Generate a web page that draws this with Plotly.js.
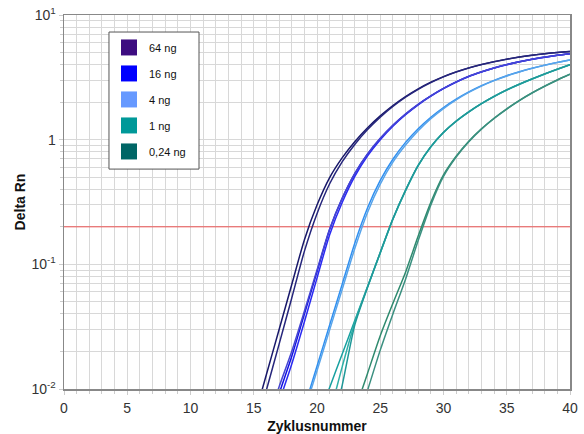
<!DOCTYPE html>
<html>
<head>
<meta charset="utf-8">
<script src="https://cdn.plot.ly/plotly-3.0.1.min.js"></script>
<style>
html,body{margin:0;padding:0;background:#ffffff;}
#chart{width:584px;height:434px;}
</style>
</head>
<body>
<div id="chart"></div>
<script>
// ---- data ----
const cycles = [14,15,16,17,18,19,20,21,22,23,24,25,26,27,28,29,30,31,32,33,34,35,36,37,38,39,40];
const threshold = 0.2;

const seriesNames = ['64 ng', '16 ng', '4 ng', '1 ng', '0,24 ng'];
const legendColors = ['#3d0c80', '#0000ff', '#6699ff', '#009999', '#006666'];

// 64 ng replicates
const ng64_a = [null,0.0057,0.01306,0.0299,0.0686,0.157,0.299,0.497,0.718,0.968,1.247,1.552,1.879,2.218,2.559,2.891,3.206,3.499,3.767,4.009,4.227,4.426,4.603,4.764,4.898,5.012,5.105];
const ng64_b = [null,0.0042,0.0098,0.0228,0.0535,0.127,0.255,0.443,0.666,0.92,1.205,1.515,1.846,2.19,2.535,2.87,3.19,3.485,3.755,3.998,4.218,4.418,4.597,4.758,4.893,5.008,5.10];
// 16 ng replicates
const ng16_a = [null,null,0.00437,0.00912,0.0182,0.0398,0.0871,0.1905,0.339,0.537,0.767,1.023,1.303,1.603,1.919,2.244,2.576,2.904,3.221,3.50,3.758,3.999,4.217,4.416,4.592,4.753,4.898];
const ng16_b = [null,null,0.0036,0.0078,0.0158,0.0345,0.0775,0.173,0.315,0.51,0.742,1.0,1.283,1.586,1.905,2.232,2.566,2.896,3.215,3.495,3.754,3.996,4.214,4.414,4.59,4.751,4.896];
const ng16_c = [null,null,0.0052,0.0104,0.0200,0.0420,0.090,0.192,0.341,0.54,0.77,1.026,1.306,1.606,1.922,2.247,2.579,2.907,3.224,3.503,3.761,4.002,4.22,4.419,4.595,4.756,4.90];
// 4 ng replicates
const ng4_a = [null,null,null,null,0.00333,0.00713,0.01524,0.0326,0.0697,0.149,0.284,0.471,0.697,0.951,1.225,1.514,1.811,2.113,2.415,2.71,2.992,3.258,3.508,3.741,3.963,4.169,4.365];
const ng4_b = [null,null,null,null,0.0030,0.0066,0.0140,0.0298,0.0635,0.135,0.262,0.44,0.66,0.905,1.18,1.475,1.777,2.085,2.392,2.69,2.975,3.243,3.495,3.73,3.953,4.16,4.357];
// 1 ng replicates
const ng1_a = [null,null,null,null,null,null,0.00553,0.0103,0.0192,0.0357,0.0665,0.1239,0.2307,0.3917,0.6209,0.877,1.143,1.406,1.671,1.945,2.223,2.506,2.786,3.069,3.365,3.673,3.99];
const ng1_b = [null,null,null,null,null,null,0.0030,0.0063,0.0152,0.0345,0.066,0.1235,0.2300,0.390,0.619,0.875,1.141,1.404,1.668,1.942,2.22,2.503,2.783,3.066,3.362,3.67,3.985];
const ng1_c = [null,null,null,null,null,null,0.0018,0.0040,0.0108,0.0330,0.0655,0.1245,0.2315,0.393,0.623,0.879,1.146,1.409,1.674,1.948,2.226,2.51,2.79,3.073,3.37,3.678,3.995];
// 0,24 ng replicates
const ng024_a = [null,null,null,null,null,null,null,null,null,0.00671,0.0134,0.02673,0.04864,0.0865,0.1687,0.3141,0.5212,0.736,0.971,1.222,1.486,1.766,2.065,2.371,2.685,3.013,3.35];
const ng024_b = [null,null,null,null,null,null,null,null,null,0.0048,0.0098,0.0205,0.0400,0.0760,0.155,0.300,0.508,0.726,0.963,1.215,1.48,1.761,2.06,2.367,2.681,3.009,3.345];

const yTickVals = [0.01, 0.1, 1, 10];
const yTickText = ['10<sup>-2</sup>', '10<sup>-1</sup>', '1', '10<sup>1</sup>'];
const xTickVals = [0, 5, 10, 15, 20, 25, 30, 35, 40];
const xRange = [0, 40];

// ---- traces ----
const replicates = [
  {y: ng64_a, color: '#18186a'},
  {y: ng64_b, color: '#26267c'},
  {y: ng16_a, color: '#1212e2'},
  {y: ng16_b, color: '#2a2af2'},
  {y: ng16_c, color: '#4646d2'},
  {y: ng4_a,  color: '#2f8ff0'},
  {y: ng4_b,  color: '#58a4ea'},
  {y: ng1_a,  color: '#17a0a0'},
  {y: ng1_b,  color: '#2fb0a8'},
  {y: ng1_c,  color: '#1f9898'},
  {y: ng024_a, color: '#2f8a6e'},
  {y: ng024_b, color: '#3b9080'}
];

const traces = [];
traces.push({
  x: xRange, y: [threshold, threshold],
  mode: 'lines', line: {color: '#ee5555', width: 1},
  showlegend: false, hoverinfo: 'skip'
});
replicates.forEach(r => {
  traces.push({
    x: cycles, y: r.y, mode: 'lines',
    line: {color: r.color, width: 1.5, shape: 'spline', smoothing: 0.7},
    showlegend: false, connectgaps: false
  });
});
seriesNames.forEach((n, i) => {
  traces.push({
    x: [null], y: [null], name: n, mode: 'markers',
    marker: {symbol: 'square', size: 16, color: legendColors[i], line: {width: 0}},
    legendgroup: 'g' + i, showlegend: true
  });
});

const gridC = '#d8d8d8';
const minorY = [];
[0.01, 0.1, 1].forEach(d => { for (let k = 2; k <= 9; k++) minorY.push(+(d * k).toPrecision(3)); });

const layout = {
  width: 584, height: 434,
  margin: {l: 64, r: 14, t: 15, b: 45},
  paper_bgcolor: '#ffffff', plot_bgcolor: '#ffffff',
  font: {family: 'Liberation Sans, Arial, sans-serif', size: 14, color: '#333333'},
  showlegend: true,
  legend: {
    x: 0.0889, y: 0.952, xanchor: 'left', yanchor: 'top',
    bgcolor: 'rgba(0,0,0,0)', borderwidth: 0,
    font: {size: 11, color: '#111111'}, tracegroupgap: 7
  },
  shapes: [{
    type: 'rect', xref: 'paper', yref: 'paper',
    x0: 0.0889, x1: 0.2668, y0: 0.588, y1: 0.9545,
    line: {color: '#555555', width: 1}, fillcolor: '#ffffff', layer: 'above'
  }],
  xaxis: {
    range: xRange, tickmode: 'array', tickvals: xTickVals,
    showgrid: true, gridcolor: gridC, gridwidth: 1,
    minor: {dtick: 1, tick0: 0, showgrid: true, gridcolor: gridC, gridwidth: 1, ticks: 'outside', ticklen: 3, tickcolor: '#cccccc'},
    ticks: 'outside', ticklen: 4, tickcolor: '#cccccc', ticklabelstandoff: 2,
    showline: true, linecolor: '#888888', linewidth: 1.5, mirror: true, zeroline: false,
    tickfont: {size: 14, color: '#333333'},
    title: {text: '<b>Zyklusnummer</b>', font: {size: 14, color: '#111111'}, standoff: 14}
  },
  yaxis: {
    type: 'log', range: [-2, 1], tickmode: 'array', tickvals: yTickVals, ticktext: yTickText,
    showgrid: true, gridcolor: gridC, gridwidth: 1,
    minor: {tickmode: 'array', tickvals: minorY, showgrid: true, gridcolor: gridC, gridwidth: 1, ticks: 'outside', ticklen: 3, tickcolor: '#cccccc'},
    ticks: 'outside', ticklen: 4, tickcolor: '#cccccc',
    showline: true, linecolor: '#888888', linewidth: 1.5, mirror: true, zeroline: false,
    tickfont: {size: 14, color: '#333333'},
    title: {text: '<b>Delta Rn</b>', font: {size: 14, color: '#111111'}, standoff: 2}
  }
};

Plotly.newPlot('chart', traces, layout, {displayModeBar: false, staticPlot: true});
</script>
</body>
</html>
